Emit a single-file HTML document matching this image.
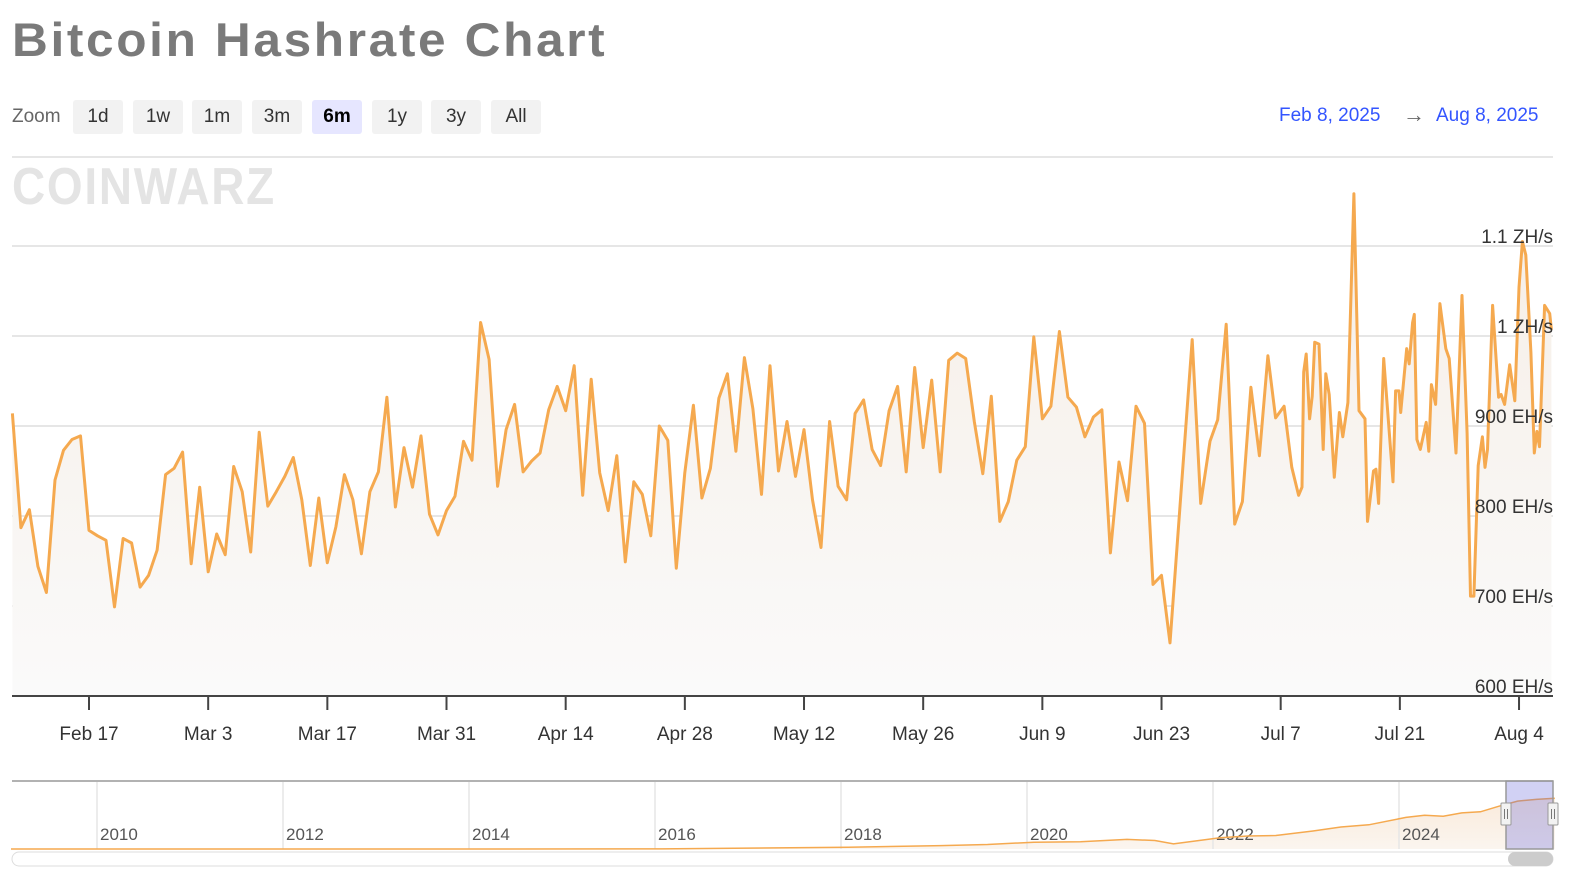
<!DOCTYPE html>
<html><head><meta charset="utf-8"><style>
body{margin:0;background:#fff;width:1576px;height:895px;overflow:hidden;font-family:"Liberation Sans",sans-serif}
#title{position:absolute;left:12px;top:12px;font-size:47px;font-weight:bold;color:#7a7a7a;letter-spacing:2.5px;margin:0;transform:scaleX(1.055);transform-origin:left top;white-space:nowrap}
.zl{position:absolute;left:12px;top:106px;font-size:19px;color:#666}
.btn{position:absolute;top:100px;width:50px;height:34px;background:#f2f2f2;border-radius:3px;font-size:19px;color:#333;text-align:center;line-height:34px;cursor:pointer}
.btn.sel{background:#e6e6ff;font-weight:bold;color:#000}
.date{position:absolute;top:105px;font-size:19px;color:#3355ff}
</style></head><body>
<div id="title">Bitcoin Hashrate Chart</div>
<div class="zl">Zoom</div>
<div class="btn" style="left:73px">1d</div>
<div class="btn" style="left:133px">1w</div>
<div class="btn" style="left:192px">1m</div>
<div class="btn" style="left:252px">3m</div>
<div class="btn sel" style="left:312px">6m</div>
<div class="btn" style="left:372px">1y</div>
<div class="btn" style="left:431px">3y</div>
<div class="btn" style="left:491px">All</div>
<div class="date" style="left:1279px">Feb 8, 2025</div>
<div class="date" style="left:1403px;top:102px;font-size:22px;color:#666">→</div>
<div class="date" style="left:1436px">Aug 8, 2025</div>
<svg id="chart" width="1576" height="895" style="position:absolute;left:0;top:0">
<defs><linearGradient id="ga" x1="0" y1="0" x2="0" y2="1"><stop offset="0" stop-color="#f6eee6"/><stop offset="1" stop-color="#fafafa"/></linearGradient>
<linearGradient id="gn" x1="0" y1="0" x2="0" y2="1"><stop offset="0" stop-color="#f9eadb"/><stop offset="1" stop-color="#fbf5ef"/></linearGradient></defs>
<line x1="12" y1="157" x2="1553" y2="157" stroke="#e6e6e6" stroke-width="2"/>
<text x="12" y="204" font-size="52" font-weight="bold" fill="#e4e4e4" font-family="Liberation Sans, sans-serif" letter-spacing="2" textLength="264" lengthAdjust="spacingAndGlyphs">COINWARZ</text>
<g id="grid"></g><g id="series"></g><g id="axes"></g><g id="nav"></g>
</svg>
<script>
const yTicks=[600,700,800,900,1000,1100];
const yTickLabels=["600 EH/s","700 EH/s","800 EH/s","900 EH/s","1 ZH/s","1.1 ZH/s"];
const xTickDays=[9,23,37,51,65,79,93,107,121,135,149,163,177];
const xTickLabels=["Feb 17","Mar 3","Mar 17","Mar 31","Apr 14","Apr 28","May 12","May 26","Jun 9","Jun 23","Jul 7","Jul 21","Aug 4"];
const dailyValues=[914,787,807,744,715,840,873,885,889,784,778,773,699,775,770,721,734,762,846,853,871,747,832,738,780,757,855,827,760,893,811,827,844,865,818,745,820,748,788,846,818,758,827,849,932,810,
876,832,889,802,779,806,822,883,862,1015,974,833,896,924,849,861,870,918,944,917,967,823,952,848,806,867,749,838,824,778,900,884,742,848,923,820,853,931,958,872,976,919,824,967,
850,905,844,896,818,765,905,833,818,914,929,874,856,917,944,849,965,876,951,849,973,981,975,905,847,933,794,816,862,877,999,908,922,1005,932,921,888,910,918,759,860,817,922,903,724,734,659];
const lateDays=[138.6,139.6,140.7,141.6,142.6,143.6,144.5,145.5,146.5,147.5,148.4,149.4,150.3,151.1,151.5,151.7,152.0,152.4,152.7,153.0,153.5,154.0,154.3,154.7,155.3,155.9,156.3,156.9,157.6,158.2,158.9,159.2,159.9,160.2,160.5,161.1,162.2,162.5,162.9,163.1,163.8,164.1,164.5,164.7,165.0,165.4,166.1,166.4,166.7,167.2,167.7,168.4,168.8,169.6,170.3,170.9,171.3,171.7,172.2,172.7,173.0,173.3,173.9,174.6,174.9,175.3,175.9,176.5,177.0,177.4,177.8,178.4,178.8,179.1,179.4,180.0,180.6,180.8];
const lateValues=[996,814,883,907,1013,791,816,943,867,978,909,922,854,823,832,960,980,908,933,993,991,874,958,935,843,915,888,926,1158,917,908,794,850,852,814,975,838,939,939,915,986,969,1015,1024,885,874,904,872,946,924,1036,986,975,870,1045,892,711,711,856,888,854,874,1034,932,935,924,968,928,1054,1105,1090,982,870,894,877,1034,1025,1007];
const navYears=[2009,2012,2016,2018,2019,2019.5,2020,2020.5,2021,2021.3,2021.5,2022,2022.3,2022.6,2023,2023.3,2023.6,2024,2024.2,2024.4,2024.6,2024.8,2025,2025.2,2025.4,2025.6];
const navValues=[0,0,2,30,60,80,120,130,170,150,90,200,230,240,320,390,430,560,600,580,640,660,760,850,880,900];
const navYearTicks=[2010,2012,2014,2016,2018,2020,2022,2024];

const NS="http://www.w3.org/2000/svg";
function mk(tag,attrs,parent){const e=document.createElementNS(NS,tag);for(const k in attrs)e.setAttribute(k,attrs[k]);parent.appendChild(e);return e;}
const X=d=>12.4+d*8.512;
const Y=v=>696-(v-600)*0.9;
const NX=yr=>11+(yr-2009)*93;
const NY=v=>849-v/1100*62;
const grid=document.getElementById('grid'),series=document.getElementById('series'),axes=document.getElementById('axes'),nav=document.getElementById('nav');
yTicks.forEach((v,i)=>{
  if(i>0){const l=mk('line',{x1:12,x2:1553,y1:Y(v),y2:Y(v),stroke:'#e6e6e6','stroke-width':2},grid);
  
  }
  const t=mk('text',{x:1553,y:Y(v)-3,'text-anchor':'end','font-size':19,fill:'#333'},axes);
  t.textContent=yTickLabels[i];
  
  
});
const pts=[];
dailyValues.forEach((v,i)=>pts.push([X(i),Y(v)]));
lateDays.forEach((d,i)=>pts.push([X(d),Y(lateValues[i])]));
const lp=pts.map((p,i)=>(i?'L':'M')+p[0].toFixed(1)+','+p[1].toFixed(1)).join('');
const area=mk('path',{d:lp+'L'+pts[pts.length-1][0].toFixed(1)+',696L'+pts[0][0].toFixed(1)+',696Z',fill:'url(#ga)'},series);


const line=mk('path',{d:lp,fill:'none',stroke:'#f5a94f','stroke-width':3,'stroke-linejoin':'round'},series);


const ax=mk('line',{x1:12,x2:1553,y1:696,y2:696,stroke:'#444','stroke-width':2},axes);


xTickDays.forEach((d,i)=>{
  const tk=mk('line',{x1:X(d),x2:X(d),y1:696,y2:710,stroke:'#444','stroke-width':2},axes);
  
  
  const t=mk('text',{x:X(d),y:740,'text-anchor':'middle','font-size':19,fill:'#333'},axes);
  t.textContent=xTickLabels[i];
  
  
});
// navigator
const np=navYears.map((y,i)=>(i?'L':'M')+NX(y).toFixed(1)+','+NY(navValues[i]).toFixed(1)).join('');
const na=mk('path',{d:np+'L'+NX(navYears[navYears.length-1]).toFixed(1)+',849L11,849Z',fill:'url(#gn)'},nav);


navYearTicks.forEach(yr=>{
  const l=mk('line',{x1:NX(yr)-7,x2:NX(yr)-7,y1:782,y2:849,stroke:'#e6e6e6','stroke-width':1.5},nav);
  
  
  const t=mk('text',{x:NX(yr)-4,y:840,'font-size':17,fill:'#555'},nav);
  t.textContent=String(yr);
  
  
});
const nl=mk('path',{d:np,fill:'none',stroke:'#f5a94f','stroke-width':1.5},nav);


const frame=mk('path',{d:'M12,781H1553',stroke:'#999','stroke-width':1.5,fill:'none'},nav);


const sel=mk('rect',{x:1506,y:781,width:47,height:68,fill:'rgba(102,102,220,0.3)',stroke:'#999','stroke-width':1.5},nav);


[1506,1553].forEach(hx=>{
  const h=mk('rect',{x:hx-5,y:803,width:10,height:22,fill:'#f2f2f2',stroke:'#999',rx:1},nav);
  
  
  const g=mk('path',{d:`M${hx-1.5},809V819M${hx+1.5},809V819`,stroke:'#777'},nav);
  
  
});
const sb=mk('rect',{x:12,y:852,width:1541,height:14,rx:7,fill:'#fff',stroke:'#ddd'},nav);


const th=mk('rect',{x:1508,y:852,width:45,height:14,rx:7,fill:'#ccc'},nav);


</script>
</body></html>
